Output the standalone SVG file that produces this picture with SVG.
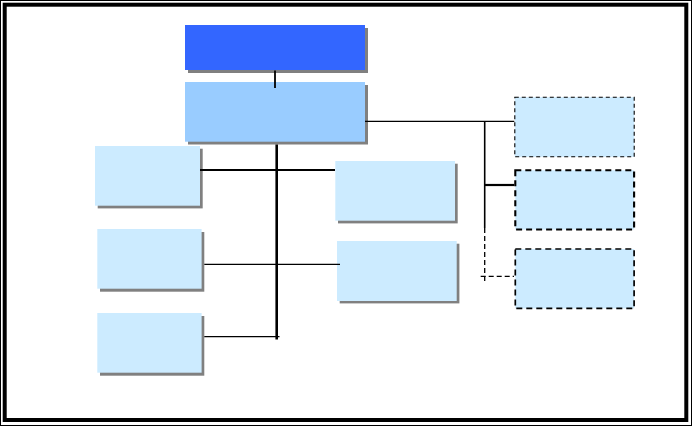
<svg xmlns="http://www.w3.org/2000/svg" width="692" height="426" viewBox="0 0 692 426">
<style>
.sh{fill:#808080}
.lt{fill:#CCEBFF}
.ln{stroke:#000;fill:none}
.dbox{fill:#CCEBFF;stroke:#000}
</style>
<rect x="0" y="0" width="692" height="426" fill="#fff"/>
<rect x="0.5" y="0.5" width="691" height="425" fill="none" stroke="#000" stroke-width="1"/>
<rect x="4.7" y="4.7" width="681.6" height="415.3" fill="none" stroke="#000" stroke-width="4"/>
<g id="n-top">
<rect class="sh" x="188" y="28" width="180" height="45"/>
<rect x="185" y="25" width="180" height="45" fill="#3366FF"/>
</g>
<g id="n-main">
<rect class="sh" x="188" y="85" width="180" height="59.5"/>
<rect x="185" y="82" width="180" height="59.7" fill="#99CCFF"/>
</g>
<g id="n-l1">
<rect class="sh" x="97.7" y="148.7" width="105" height="59.7"/>
<rect class="lt" x="95" y="146" width="105" height="59.7"/>
</g>
<g id="n-l2">
<rect class="sh" x="100" y="232" width="104.3" height="59.7"/>
<rect class="lt" x="97.3" y="229" width="104.3" height="59.7"/>
</g>
<g id="n-l3">
<rect class="sh" x="100" y="316" width="104.3" height="59.7"/>
<rect class="lt" x="97.3" y="313" width="104.3" height="59.7"/>
</g>
<g id="n-r1">
<rect class="sh" x="338" y="163.7" width="119.7" height="59.7"/>
<rect class="lt" x="335.3" y="161" width="119.7" height="59.7"/>
</g>
<g id="n-r2">
<rect class="sh" x="339.7" y="243.7" width="119.7" height="59.7"/>
<rect class="lt" x="337" y="241" width="119.7" height="60"/>
</g>
<g id="n-d1">
<rect class="dbox" x="514.8" y="97.2" width="119.4" height="59.6" stroke-width="1.1" stroke-dasharray="4 3"/>
</g>
<g id="n-d2">
<rect class="dbox" x="515.3" y="170.3" width="118.8" height="59.2" stroke-width="2.1" stroke-dasharray="6 4"/>
</g>
<g id="n-d3">
<rect class="dbox" x="515.3" y="249" width="118.8" height="59.4" stroke-width="1.7" stroke-dasharray="6 4"/>
</g>
<g id="connectors">
<line class="ln" x1="275" y1="70.5" x2="275" y2="88" stroke-width="1.8"/>
<line class="ln" x1="276.7" y1="144.5" x2="276.7" y2="339.5" stroke-width="2.6"/>
<line class="ln" x1="200" y1="170" x2="335" y2="170" stroke-width="2.2"/>
<line class="ln" x1="204.3" y1="264.3" x2="340" y2="264.3" stroke-width="1.3"/>
<line class="ln" x1="204.3" y1="336.7" x2="279.5" y2="336.7" stroke-width="1.3"/>
<line class="ln" x1="365" y1="121.3" x2="514.3" y2="121.3" stroke-width="1.2"/>
<line class="ln" x1="484.7" y1="121.3" x2="484.7" y2="228" stroke-width="1.6"/>
<line class="ln" x1="484.7" y1="228" x2="484.7" y2="282" stroke-width="1.3" stroke-dasharray="5 3"/>
<line class="ln" x1="484.7" y1="185" x2="514.3" y2="185" stroke-width="2.2"/>
<line class="ln" x1="480.7" y1="276.3" x2="514" y2="276.3" stroke-width="1.2" stroke-dasharray="5 3"/>
</g>
</svg>
